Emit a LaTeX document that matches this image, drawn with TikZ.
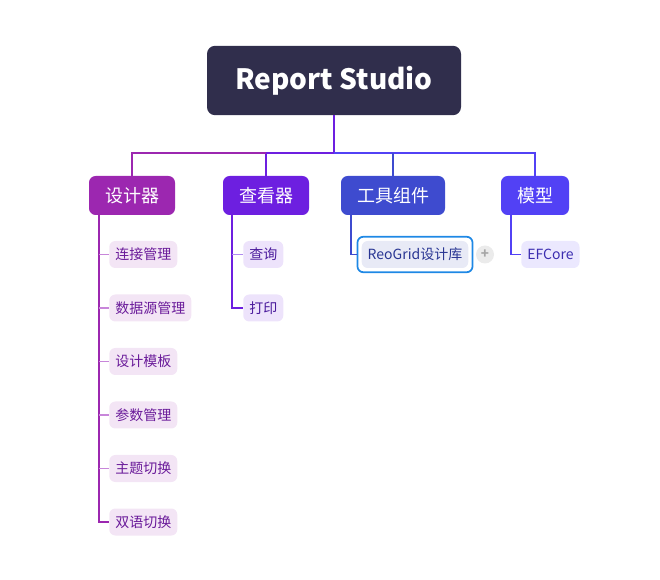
\documentclass[tikz,border=0pt]{standalone}
\usepackage{fontspec}
\setmainfont{Noto Sans CJK SC}
\definecolor{rootc}{HTML}{302E4C}
\definecolor{ca}{HTML}{9C27B0}
\definecolor{cb}{HTML}{6D1FE0}
\definecolor{cc}{HTML}{3E4BCF}
\definecolor{cd}{HTML}{5241F5}
\definecolor{fa}{HTML}{F3E5F5}
\definecolor{fb}{HTML}{EDE3FB}
\definecolor{fc}{HTML}{E8EAF6}
\definecolor{fd}{HTML}{EBE8FE}
\definecolor{ta}{HTML}{6A1B9A}
\definecolor{tb}{HTML}{4A1A9C}
\definecolor{tc}{HTML}{283593}
\definecolor{td}{HTML}{3B2DB0}
\definecolor{ka}{HTML}{C886DA}
\definecolor{kb}{HTML}{B08AF0}
\definecolor{kc}{HTML}{7986CB}
\definecolor{kd}{HTML}{8C80F8}
\definecolor{selc}{HTML}{1E88E5}
\begin{document}
\begin{tikzpicture}[x=0.75pt,y=-0.75pt,
  rootbox/.style={fill=rootc,rounded corners=6pt,text=white,minimum width=190.5pt,minimum height=52pt,inner sep=0pt,font=\fontsize{21}{24}\selectfont\bfseries},
  childbox/.style={fill=#1,rounded corners=5pt,text=white,minimum height=29.25pt,inner sep=0pt,font=\fontsize{13.5}{15}\selectfont},
  leafbox/.style={rounded corners=4.5pt,minimum height=20.25pt,inner xsep=4.5pt,inner ysep=0pt,font=\fontsize{10.5}{12}\selectfont,anchor=west},
  main/.style={line width=2.1pt},
  sub/.style={line width=1.1pt}]
\useasboundingbox (0,0) rectangle (660,580);
% root
\node[rootbox] (root) at (334,80.5) {Report Studio};
% children
\node[childbox=ca,minimum width=64.5pt] (c1) at (132,195.5) {设计器};
\node[childbox=cb,minimum width=64.5pt] (c2) at (266,195.5) {查看器};
\node[childbox=cc,minimum width=78pt] (c3) at (393,195.5) {工具组件};
\node[childbox=cd,minimum width=51pt] (c4) at (535,195.5) {模型};
% trunk connectors
\coordinate (j) at (334,153);
\draw[main,cb] (root.south) -- (j);
\draw[main,cb] (j) -- (266,153) -- (c2.north);
\draw[main,ca] (266,153) -| (c1.north);
\draw[main,cd] (j) -| (c4.north);
\draw[main,cc] (393,153) -- (c3.north);
% leaves of c1
\node[leafbox,fill=fa,text=ta] (a1) at (109,254.5) {连接管理};
\node[leafbox,fill=fa,text=ta] (a2) at (109,308) {数据源管理};
\node[leafbox,fill=fa,text=ta] (a3) at (109,361.5) {设计模板};
\node[leafbox,fill=fa,text=ta] (a4) at (109,415) {参数管理};
\node[leafbox,fill=fa,text=ta] (a5) at (109,468.5) {主题切换};
\node[leafbox,fill=fa,text=ta] (a6) at (109,522) {双语切换};
\coordinate (va) at (99,215);
\draw[sub,ca] (va) -- (va |- a6.west) -- (a6.west);
\foreach \n in {a1,a2,a3,a4,a5}{\draw[sub,ka] (va |- \n.west) -- (\n.west);}
% leaves of c2
\node[leafbox,fill=fb,text=tb] (b1) at (243,254.5) {查询};
\node[leafbox,fill=fb,text=tb] (b2) at (243,308) {打印};
\coordinate (vb) at (232,215);
\draw[sub,cb] (vb) -- (vb |- b2.west) -- (b2.west);
\draw[sub,kb] (vb |- b1.west) -- (b1.west);
% leaves of c3
\node[leafbox,fill=fc,text=tc,anchor=center] (r1) at (415,254.5) {ReoGrid设计库};
\draw[selc,line width=1.3pt,rounded corners=4.5pt] ([xshift=-3pt,yshift=3pt]r1.north west) rectangle ([xshift=3pt,yshift=-3pt]r1.south east);
\coordinate (vc) at (351,215);
\draw[sub,cc] (vc) -- (vc |- r1.west) -- ([xshift=-3pt]r1.west);
\node[circle,fill=black!8,minimum size=13.5pt,inner sep=0pt,text=black!35,font=\fontsize{10}{10}\selectfont\bfseries] (plus) at (485,254.5) {+};
% leaves of c4
\node[leafbox,fill=fd,text=td] (d1) at (521,254.5) {EFCore};
\coordinate (vd) at (511,215);
\draw[sub,cd] (vd) -- (vd |- d1.west) -- (d1.west);
\end{tikzpicture}
\end{document}
